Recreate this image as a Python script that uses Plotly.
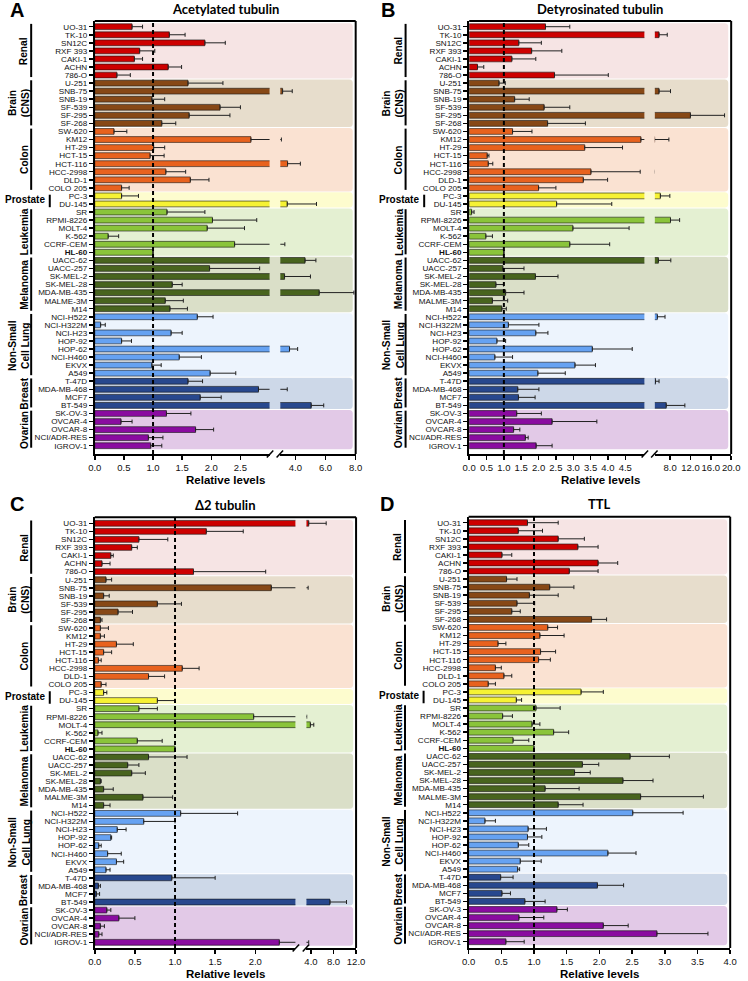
import plotly.graph_objects as go

# ---------------- data ----------------
cell_lines = ["UO-31", "TK-10", "SN12C", "RXF 393", "CAKI-1", "ACHN", "786-O",
              "U-251", "SNB-75", "SNB-19", "SF-539", "SF-295", "SF-268",
              "SW-620", "KM12", "HT-29", "HCT-15", "HCT-116", "HCC-2998", "DLD-1", "COLO 205",
              "PC-3", "DU-145",
              "SR", "RPMI-8226", "MOLT-4", "K-562", "CCRF-CEM", "HL-60",
              "UACC-62", "UACC-257", "SK-MEL-2", "SK-MEL-28", "MDA-MB-435", "MALME-3M", "M14",
              "NCI-H522", "NCI-H322M", "NCI-H23", "HOP-92", "HOP-62", "NCI-H460", "EKVX", "A549",
              "T-47D", "MDA-MB-468", "MCF7", "BT-549",
              "SK-OV-3", "OVCAR-4", "OVCAR-8", "NCI/ADR-RES", "IGROV-1"]

group_names = ["Renal", "Brain<br>(CNS)", "Colon", "Prostate", "Leukemia", "Melanoma",
               "Non-Small<br>Cell Lung", "Breast", "Ovarian"]
group_sizes = [7, 6, 8, 2, 6, 7, 8, 4, 5]
group_bar_colors = ["rgb(205,0,0)", "rgb(135,72,22)", "rgb(232,98,30)", "rgb(246,242,52)",
                    "rgb(138,196,58)", "rgb(72,100,30)", "rgb(102,162,242)", "rgb(40,72,142)",
                    "rgb(138,12,160)"]
group_band_colors = ["rgb(246,228,228)", "rgb(231,221,204)", "rgb(250,226,210)", "rgb(253,252,206)",
                     "rgb(228,240,210)", "rgb(218,223,200)", "rgb(237,244,253)", "rgb(205,216,232)",
                     "rgb(226,201,231)"]

acetylated = [0.64, 1.28, 1.89, 0.77, 0.68, 1.26, 0.38,
              1.60, 3.15, 0.98, 2.15, 1.62, 1.15,
              0.33, 2.68, 1.01, 0.95, 3.48, 1.22, 1.64, 0.46,
              0.46, 3.46,
              1.24, 2.02, 1.93, 0.23, 2.40, 1.00,
              4.64, 1.97, 3.28, 1.33, 5.58, 1.21, 1.29,
              1.76, 0.10, 1.31, 0.46, 3.61, 1.45, 0.98, 1.98,
              1.60, 2.81, 1.81, 5.05,
              1.23, 0.45, 1.73, 0.92, 0.96]
acetylated_err = [0.18, 0.27, 0.35, 0.26, 0.14, 0.23, 0.23,
                  0.60, 0.64, 0.22, 0.35, 0.70, 0.24,
                  0.22, 0.39, 0.19, 0.24, 0.85, 0.34, 0.32, 0.13,
                  0.29, 1.94,
                  0.65, 0.76, 0.64, 0.18, 0.90, 0.0,
                  0.72, 0.86, 1.72, 0.17, 2.30, 0.31, 0.30,
                  0.27, 0.08, 0.19, 0.17, 0.54, 0.38, 0.16, 0.44,
                  0.25, 0.65, 0.36, 0.83,
                  0.42, 0.19, 0.31, 0.25, 0.19]

detyrosinated = [2.20, 5.83, 1.43, 1.80, 1.23, 0.24, 2.46,
                 0.86, 5.83, 1.31, 2.16, 12.0, 2.26,
                 1.25, 4.95, 3.33, 0.52, 0.55, 3.51, 3.29, 2.00,
                 6.09, 2.52,
                 0.07, 8.08, 2.99, 0.48, 2.90, 1.00,
                 5.70, 0.97, 1.91, 0.77, 1.05, 0.67, 0.94,
                 5.50, 1.13, 1.92, 0.80, 3.55, 0.74, 3.05, 1.98,
                 5.13, 1.40, 1.42, 7.24,
                 1.37, 2.39, 1.28, 1.62, 1.93]
detyrosinated_err = [0.70, 1.61, 0.65, 0.87, 0.69, 0.18, 1.55,
                     0.18, 2.25, 0.42, 0.74, 6.70, 1.09,
                     0.56, 2.81, 1.09, 0.05, 0.13, 1.42, 0.70, 0.50,
                     1.86, 1.59,
                     0.07, 1.79, 1.62, 0.19, 1.15, 0.0,
                     2.44, 0.61, 0.65, 0.22, 0.53, 0.44, 0.13,
                     1.50, 0.88, 0.35, 0.25, 1.15, 0.51, 0.59, 0.79,
                     0.70, 0.61, 0.48, 3.66,
                     0.71, 1.29, 0.18, 0.08, 0.46]

delta2 = [3.60, 1.39, 0.55, 0.46, 0.20, 0.09, 1.23,
          0.14, 2.20, 0.11, 0.78, 0.29, 0.07,
          0.07, 0.07, 0.27, 0.11, 0.045, 1.09, 0.67, 0.08,
          0.11, 0.78,
          0.55, 1.98, 3.90, 0.04, 0.53, 1.00,
          0.67, 0.41, 0.46, 0.07, 0.11, 0.60, 0.11,
          1.07, 0.61, 0.28, 0.20, 0.05, 0.16, 0.27, 0.14,
          0.96, 0.045, 0.02, 7.37,
          0.15, 0.30, 0.07, 0.05, 2.30]
delta2_err = [3.10, 0.46, 0.36, 0.07, 0.03, 0.10, 0.90,
              0.07, 1.30, 0.07, 0.30, 0.18, 0.02,
              0.10, 0.05, 0.21, 0.10, 0.035, 0.21, 0.20, 0.06,
              0.04, 0.22,
              0.23, 1.27, 0.60, 0.05, 0.31, 0.0,
              0.48, 0.14, 0.17, 0.01, 0.12, 0.37, 0.08,
              0.71, 0.39, 0.11, 0.01, 0.03, 0.17, 0.09, 0.05,
              0.54, 0.025, 0.04, 2.93,
              0.05, 0.20, 0.05, 0.04, 1.30]

ttl = [0.90, 0.76, 1.37, 1.67, 0.51, 1.98, 1.54,
       0.58, 1.24, 0.93, 0.74, 0.66, 1.88,
       1.21, 1.09, 0.45, 1.10, 1.07, 0.41, 0.54, 0.30,
       1.72, 0.73,
       1.03, 0.52, 0.97, 1.30, 0.68, 1.00,
       2.47, 1.74, 1.62, 2.36, 1.17, 2.63, 1.37,
       2.51, 0.25, 0.91, 0.90, 0.76, 2.13, 0.79, 0.75,
       0.49, 1.97, 0.51, 0.86,
       1.35, 0.77, 2.06, 2.88, 0.57]
ttl_err = [0.47, 0.37, 0.40, 0.31, 0.15, 0.30, 0.44,
           0.16, 0.37, 0.44, 0.27, 0.13, 0.23,
           0.15, 0.37, 0.12, 0.23, 0.18, 0.09, 0.12, 0.11,
           0.34, 0.08,
           0.37, 0.15, 0.12, 0.23, 0.24, 0.0,
           0.60, 0.25, 0.24, 0.46, 0.52, 0.96, 0.38,
           0.77, 0.16, 0.28, 0.22, 0.16, 0.43, 0.32, 0.03,
           0.19, 0.40, 0.13, 0.31,
           0.16, 0.38, 0.38, 0.78, 0.28]

ticks_A_left = [0.0, 0.5, 1.0, 1.5, 2.0, 2.5]
ticks_A_right = [4.0, 6.0, 8.0]
ticks_B_left = [0.0, 0.5, 1.0, 1.5, 2.0, 2.5, 3.0, 3.5, 4.0, 4.5]
ticks_B_right = [8.0, 12.0, 16.0, 20.0]
ticks_C_left = [0.0, 0.5, 1.0, 1.5, 2.0]
ticks_C_right = [4.0, 8.0, 12.0]
ticks_D = [0.0, 0.5, 1.0, 1.5, 2.0, 2.5, 3.0, 3.5, 4.0]

# ---------------- layout helpers ----------------
W, H = 748, 981
FONT = "Liberation Sans, Arial, sans-serif"


def px(x):
    return x / W


def py(y):
    return 1 - y / H


n_rows = len(cell_lines)
rows = list(range(n_rows))
bar_colors = []
group_spans = []
idx = 0
for g, size in enumerate(group_sizes):
    bar_colors += [group_bar_colors[g]] * size
    group_spans.append((idx, idx + size - 1))
    idx += size

ticktext = [("<b>%s</b>" % c) if c == "HL-60" else c for c in cell_lines]

panels = [
    dict(letter="A", lx=1, ly=-3, title="Acetylated tubulin", vals=acetylated, errs=acetylated_err,
         left=89.7, right=356.3, top=21, bottom=454, first=26.7, last=445.7,
         seg_end=268.3, seg_start=279.3, rl=[0, 3.0], rr=[3.0, 8.0],
         tl=ticks_A_left, tr=ticks_A_right, lab_y=480),
    dict(letter="B", lx=380, ly=-3, title="Detyrosinated tubulin", vals=detyrosinated, errs=detyrosinated_err,
         left=472.3, right=740, top=21, bottom=454, first=26.7, last=445.7,
         seg_end=651.3, seg_start=662, rl=[0, 5.05], rr=[5.0, 20.0],
         tl=ticks_B_left, tr=ticks_B_right, lab_y=480),
    dict(letter="C", lx=1, ly=491, title="Δ2 tubulin", vals=delta2, errs=delta2_err,
         left=89.7, right=356.7, top=517.3, bottom=948, first=523.3, last=942.3,
         seg_end=294.7, seg_start=306, rl=[0, 2.5], rr=[3.2, 12.0],
         tl=ticks_C_left, tr=ticks_C_right, lab_y=974),
    dict(letter="D", lx=379, ly=491, title="TTL", vals=ttl, errs=ttl_err,
         left=471.7, right=739, top=516.7, bottom=948, first=522.7, last=941.7,
         seg_end=None, seg_start=None, rl=[0, 4.0], rr=None,
         tl=ticks_D, tr=None, lab_y=974),
]

fig = go.Figure()
layout = dict(width=W, height=H, margin=dict(l=0, r=0, t=0, b=0), autosize=False,
              paper_bgcolor="white", plot_bgcolor="rgba(0,0,0,0)", showlegend=False,
              font=dict(family=FONT, color="#111"), bargap=0.28)
shapes = []
annotations = []

xcount = 0
for pi, p in enumerate(panels):
    yn = pi + 1
    yname = "y" if yn == 1 else "y%d" % yn
    ykey = "yaxis" if yn == 1 else "yaxis%d" % yn
    rowpx = (p["last"] - p["first"]) / (n_rows - 1)
    top_row = -(p["first"] - p["top"]) / rowpx
    bot_row = (n_rows - 1) + (p["bottom"] - p["last"]) / rowpx

    segs = []
    if p["rr"] is None:
        segs.append((p["left"], p["right"], p["rl"], p["tl"]))
    else:
        segs.append((p["left"], p["seg_end"], p["rl"], p["tl"]))
        segs.append((p["seg_start"], p["right"], p["rr"], p["tr"]))

    first_xname = None
    for (a, b, rng, tv) in segs:
        xcount += 1
        xname = "x" if xcount == 1 else "x%d" % xcount
        xkey = "xaxis" if xcount == 1 else "xaxis%d" % xcount
        if first_xname is None:
            first_xname = xname
        layout[xkey] = dict(domain=[px(a), px(b)], range=rng, anchor=yname,
                            showgrid=False, zeroline=False, showline=True, linewidth=2,
                            linecolor="black", ticks="outside", ticklen=4, tickwidth=1.5,
                            tickcolor="black", tickvals=tv, ticktext=["%.1f" % t for t in tv],
                            tickangle=0,
                            tickfont=dict(size=9.5, family=FONT, color="#111"), fixedrange=True)
        fig.add_trace(go.Bar(
            x=p["vals"], y=rows, orientation="h", width=0.72,
            marker=dict(color=bar_colors, line=dict(color="rgba(20,20,20,0.65)", width=0.9)),
            error_x=dict(type="data", array=p["errs"], arrayminus=[0] * n_rows, symmetric=False,
                         color="#222", thickness=1, width=2),
            xaxis=xname, yaxis=yname, hoverinfo="skip", showlegend=False))

    layout[ykey] = dict(domain=[py(p["bottom"]), py(p["top"])], range=[bot_row, top_row],
                        anchor=first_xname, showgrid=False, zeroline=False, showline=True,
                        linewidth=2, linecolor="black", ticks="outside", ticklen=4, tickwidth=1.5,
                        tickcolor="black", tickvals=rows, ticktext=ticktext,
                        tickfont=dict(size=8.1, family=FONT, color="#111"), fixedrange=True)

    # background bands (rounded right corners)
    x0 = px(p["left"])
    x1 = px(p["right"] - 3)
    rx = 3.5 / W
    ry = 3.5 / rowpx
    for g, (s, e) in enumerate(group_spans):
        y0 = s - 0.44
        y1 = e + 0.44
        path = ("M%f,%f H%f Q%f,%f %f,%f V%f Q%f,%f %f,%f H%f Z" %
                (x0, y0, x1 - rx, x1, y0, x1, y0 + ry, y1 - ry, x1, y1, x1 - rx, y1, x0))
        shapes.append(dict(type="path", path=path, xref="paper", yref=yname,
                           fillcolor=group_band_colors[g], line=dict(width=0), layer="below"))

        # group labels and brackets
        c = (s + e) / 2
        if group_names[g] == "Prostate":
            annotations.append(dict(text="<b>Prostate</b>", x=px(p["left"] - 49), y=c,
                                    xref="paper", yref=yname, xanchor="right", yanchor="middle",
                                    showarrow=False, font=dict(size=10, family=FONT, color="black")))
            shapes.append(dict(type="line", xref="paper", yref=yname,
                               x0=px(p["left"] - 46), x1=px(p["left"] - 46),
                               y0=s - 0.15, y1=e + 0.4, line=dict(color="black", width=2)))
        else:
            two = "<br>" in group_names[g]
            annotations.append(dict(text="<b>%s</b>" % group_names[g],
                                    x=px(p["left"] - (77.5 if two else 72)), y=c,
                                    xref="paper", yref=yname, xanchor="center", yanchor="middle",
                                    textangle=-90, showarrow=False,
                                    font=dict(size=10.2, family=FONT, color="black")))
            shapes.append(dict(type="line", xref="paper", yref=yname,
                               x0=px(p["left"] - 65), x1=px(p["left"] - 65),
                               y0=s - 0.35, y1=e + 0.25, line=dict(color="black", width=2)))

    # dashed reference line at 1.0
    shapes.append(dict(type="line", xref=first_xname, yref="paper", x0=1, x1=1,
                       y0=py(p["bottom"]), y1=py(p["top"]),
                       line=dict(color="black", width=2, dash="4px,3px"), layer="above"))
    # frame top and right
    shapes.append(dict(type="line", xref="paper", yref="paper", x0=px(p["left"]), x1=px(p["right"]),
                       y0=py(p["top"]), y1=py(p["top"]), line=dict(color="black", width=2)))
    shapes.append(dict(type="line", xref="paper", yref="paper", x0=px(p["right"]), x1=px(p["right"]),
                       y0=py(p["top"]), y1=py(p["bottom"]), line=dict(color="black", width=2)))
    # axis break marks
    if p["rr"] is not None:
        for cx in (p["seg_end"] + 0.5, p["seg_start"] - 0.5):
            shapes.append(dict(type="line", xref="paper", yref="paper",
                               x0=px(cx - 3.3), x1=px(cx + 3.3),
                               y0=py(p["bottom"] + 3.5), y1=py(p["bottom"] - 3.5),
                               line=dict(color="black", width=1.5)))

    # titles
    cxm = (p["left"] + p["right"]) / 2
    annotations.append(dict(text="<b>%s</b>" % p["title"], x=px(cxm), y=py(p["top"] - 12.5),
                            xref="paper", yref="paper", xanchor="center", yanchor="middle",
                            showarrow=False, font=dict(size=13, family="Lato, Open Sans, sans-serif",
                                                       color="black")))
    annotations.append(dict(text="<b>Relative levels</b>", x=px(cxm), y=py(p["lab_y"]),
                            xref="paper", yref="paper", xanchor="center", yanchor="middle",
                            showarrow=False, font=dict(size=11.5, family=FONT, color="black")))
    annotations.append(dict(text="<b>%s</b>" % p["letter"], x=px(p["lx"]), y=py(p["ly"]),
                            xref="paper", yref="paper", xanchor="left", yanchor="top",
                            showarrow=False, font=dict(size=20, family=FONT, color="black")))

layout["shapes"] = shapes
layout["annotations"] = annotations
fig.update_layout(**layout)
fig.write_html("out.html", config={"displayModeBar": False, "staticPlot": True},
               post_script="document.body.style.margin='0px';document.body.style.overflow='hidden';")
